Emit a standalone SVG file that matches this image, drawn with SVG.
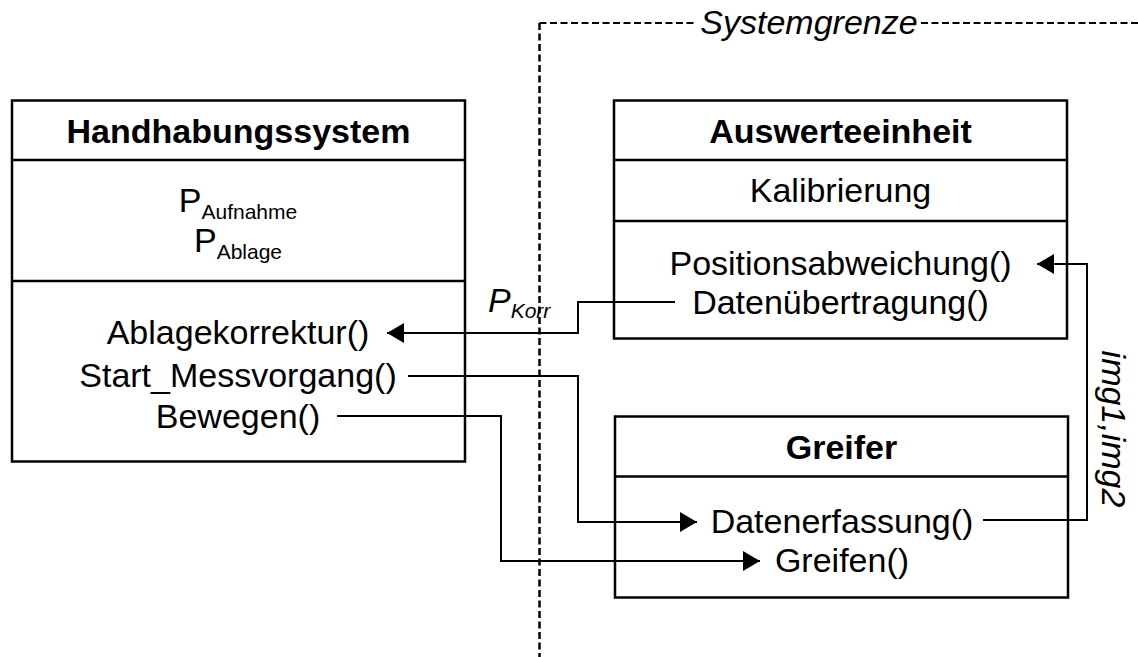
<svg xmlns="http://www.w3.org/2000/svg" width="1138" height="657" viewBox="0 0 1138 657">
<style>
.box{fill:#fff;stroke:#000;stroke-width:2.5}
.div{stroke:#000;stroke-width:2.5;fill:none}
.t{font-family:"Liberation Sans",Arial,sans-serif;font-size:34px;fill:#000;text-anchor:middle}
.b{font-weight:bold}
.i{font-style:italic}
.sub{font-size:21px}
.c{fill:none;stroke:#000;stroke-width:2}
.bd{fill:none;stroke:#000;stroke-dasharray:7 3.5}
</style>
<defs>
<marker id="ah" viewBox="0 0 17 20" refX="17" refY="10" markerWidth="17" markerHeight="20" markerUnits="userSpaceOnUse" orient="auto">
<path d="M0,0 L17,10 L0,20 Z" fill="#000"/>
</marker>
</defs>
<rect width="1138" height="657" fill="#fff"/>

<g id="systemgrenze">
<path class="bd" style="stroke-width:2.5" d="M539.5,23 V657"/>
<path class="bd" style="stroke-width:1.8" d="M539.5,23 H697"/>
<path class="bd" style="stroke-width:1.8" d="M921,23 H1138"/>
<text class="t i" x="809" y="34">Systemgrenze</text>
</g>

<g id="handhabungssystem">
<rect class="box" x="12" y="100.5" width="453" height="361"/>
<path class="div" d="M12,160 H465 M12,281 H465"/>
<text class="t b" x="238.5" y="143">Handhabungssystem</text>
<text class="t" x="238" y="212">P<tspan class="sub" dy="7">Aufnahme</tspan></text>
<text class="t" x="238" y="252">P<tspan class="sub" dy="7">Ablage</tspan></text>
<text class="t" x="238" y="344">Ablagekorrektur()</text>
<text class="t" x="238" y="387">Start_Messvorgang()</text>
<text class="t" x="238" y="428">Bewegen()</text>
</g>

<g id="auswerteeinheit">
<rect class="box" x="614" y="100.5" width="453" height="238"/>
<path class="div" d="M614,160 H1067 M614,221 H1067"/>
<text class="t b" x="840.5" y="143">Auswerteeinheit</text>
<text class="t" x="840.5" y="202">Kalibrierung</text>
<text class="t" x="840.5" y="275">Positionsabweichung()</text>
<text class="t" x="840.5" y="314">Datenübertragung()</text>
</g>

<g id="greifer">
<rect class="box" x="615" y="416.5" width="453" height="181"/>
<path class="div" d="M615,476.5 H1068"/>
<text class="t b" x="841.5" y="459">Greifer</text>
<text class="t" x="842" y="533">Datenerfassung()</text>
<text class="t" x="842" y="572">Greifen()</text>
</g>

<g id="connectors">
<path class="c" marker-end="url(#ah)" d="M675,302 H578 V333 H387"/>
<path class="c" marker-end="url(#ah)" d="M408,376 H578 V522 H697"/>
<path class="c" marker-end="url(#ah)" d="M337,416 H501 V561 H760"/>
<path class="c" marker-end="url(#ah)" d="M983,520 H1087 V264 H1037"/>
<text class="t i" x="488" y="312" style="text-anchor:start">P<tspan class="sub" dy="6">Korr</tspan></text>
<text class="t i" transform="translate(1102,429) rotate(90)">img1,img2</text>
</g>
</svg>
